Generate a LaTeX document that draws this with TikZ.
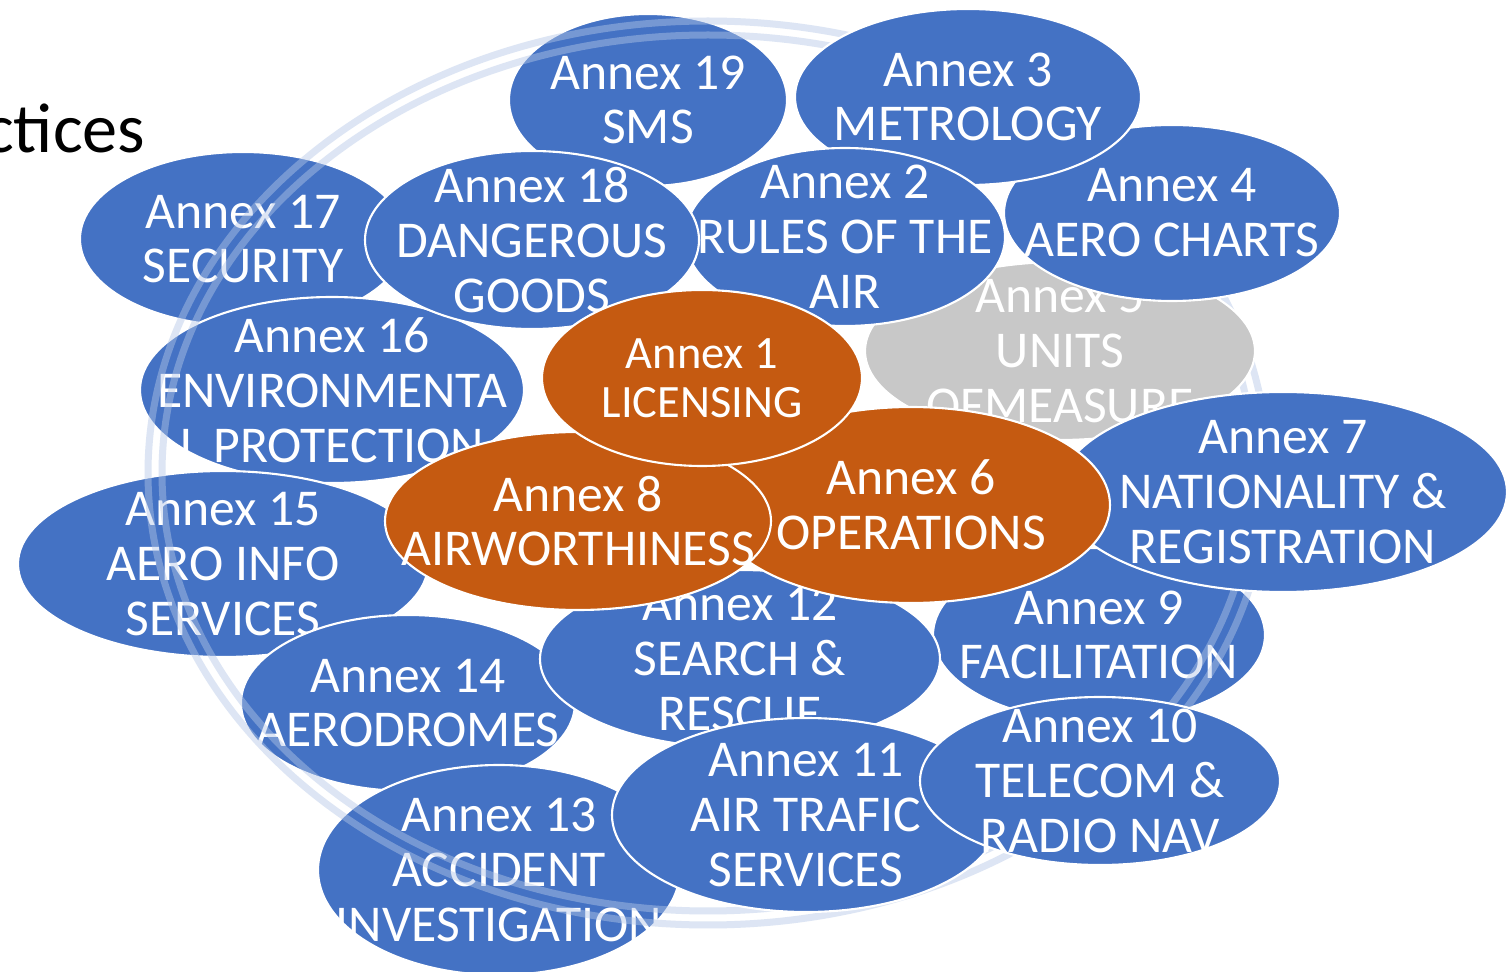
\documentclass[tikz,border=0pt]{standalone}
\usepackage{fontspec}
\setmainfont{Carlito}
\usepackage{tikz}
\usetikzlibrary{shapes.geometric}
\definecolor{annexblue}{HTML}{4472C4}
\definecolor{annexorange}{HTML}{C55A11}
\definecolor{annexgrey}{HTML}{C8C8C8}
\definecolor{ringblue}{HTML}{B4C7E7}

\begin{document}
\begin{tikzpicture}[x=0.1mm, y=-0.1mm,
    annex/.style={ellipse, draw=white, line width=0.6pt, inner sep=0pt},
    blue annex/.style={annex, fill=annexblue},
    orange annex/.style={annex, fill=annexorange},
    grey annex/.style={annex, fill=annexgrey},
    annex text/.style={text=white, align=center, inner sep=0pt, font=\fontsize{14.7}{15.6}\selectfont},
    ring/.style={draw=ringblue, draw opacity=0.45, line width=0.7mm}]
    \fill[white, use as bounding box] (0,0) rectangle (1507,972);
    \node[anchor=base east, inner sep=0pt, font=\fontsize{20}{22}\selectfont] (title) at (146,153) {ctices};
    %
    \node[blue annex, minimum width=27.8mm, minimum height=17.2mm] (a_19) at (648,100) {};
    \node[annex text] (l_19) at (a_19.center) {Annex 19\\SMS};
    \node[blue annex, minimum width=32.6mm, minimum height=17.4mm] (a_17) at (243,239) {};
    \node[annex text] (l_17) at (a_17.center) {Annex 17\\SECURITY};
    \node[blue annex, minimum width=38.4mm, minimum height=18.6mm] (a_16) at (332,390) {};
    \node[annex text] (l_16) at (a_16.center) {Annex 16\\ENVIRONMENTA\\L PROTECTION};
    \node[blue annex, minimum width=41.0mm, minimum height=18.6mm] (a_15) at (223,564) {};
    \node[annex text] (l_15) at (a_15.center) {Annex 15\\AERO INFO\\SERVICES};
    \node[blue annex, minimum width=33.4mm, minimum height=17.6mm] (a_14) at (408,703) {};
    \node[annex text] (l_14) at (a_14.center) {Annex 14\\AERODROMES};
    \node[blue annex, minimum width=36.2mm, minimum height=21.0mm] (a_13) at (499,870) {};
    \node[annex text] (l_13) at (a_13.center) {Annex 13\\ACCIDENT\\INVESTIGATION};
    \node[blue annex, minimum width=33.2mm, minimum height=17.4mm] (a_9) at (1099,635) {};
    \node[annex text] (l_9) at (a_9.center) {Annex 9\\FACILITATION};
    \node[blue annex, minimum width=40.0mm, minimum height=17.8mm] (a_12) at (740,659) {};
    \node[annex text] (l_12) at (a_12.center) {Annex 12\\SEARCH \&\\RESCUE};
    %
    \begin{scope}
        \coordinate (ring) at (708,473);
        \draw[ring] (ring) ellipse [x radius=560, y radius=452];
        \draw[ring] (ring) ellipse [x radius=546, y radius=438];
    \end{scope}
    %
    \node[grey annex, minimum width=39.0mm, minimum height=17.8mm] (a_5) at (1060,351) {};
    \node[annex text] (l_5) at (a_5.center) {Annex 5\\UNITS\\OFMEASURE};
    \node[blue annex, minimum width=33.6mm, minimum height=17.6mm] (a_4) at (1172,213) {};
    \node[annex text] (l_4) at (a_4.center) {Annex 4\\AERO CHARTS};
    \node[blue annex, minimum width=34.6mm, minimum height=17.6mm] (a_3) at (968,97) {};
    \node[annex text] (l_3) at (a_3.center) {Annex 3\\METROLOGY};
    \node[blue annex, minimum width=32.0mm, minimum height=17.8mm] (a_2) at (845,237) {};
    \node[annex text] (l_2) at (a_2.center) {Annex 2\\RULES OF THE\\AIR};
    \node[blue annex, minimum width=33.4mm, minimum height=17.8mm] (a_18) at (532,240) {};
    \node[annex text] (l_18) at (a_18.center) {Annex 18\\DANGEROUS\\GOODS};
    \node[blue annex, minimum width=44.8mm, minimum height=20.0mm] (a_7) at (1283,492) {};
    \node[annex text] (l_7) at (a_7.center) {Annex 7\\NATIONALITY \&\\REGISTRATION};
    %
    \node[orange annex, minimum width=39.8mm, minimum height=19.6mm] (a_6) at (911,505) {};
    \node[annex text] (l_6) at (a_6.center) {Annex 6\\OPERATIONS};
    \node[orange annex, minimum width=38.6mm, minimum height=17.8mm] (a_8) at (578,521) {};
    \node[annex text] (l_8) at (a_8.center) {Annex 8\\AIRWORTHINESS};
    \node[orange annex, minimum width=32.0mm, minimum height=17.6mm] (a_1) at (702,378) {};
    \node[annex text, font=\fontsize{13.2}{13.9}\selectfont] (l_1) at (a_1.center) {Annex 1\\LICENSING};
    %
    \node[blue annex, minimum width=38.8mm, minimum height=19.4mm] (a_11) at (806,815) {};
    \node[annex text] (l_11) at (a_11.center) {Annex 11\\AIR TRAFIC\\SERVICES};
    \node[blue annex, minimum width=36.0mm, minimum height=16.8mm] (a_10) at (1100,781) {};
    \node[annex text] (l_10) at (a_10.center) {Annex 10\\TELECOM \&\\RADIO NAV};
\end{tikzpicture}
\end{document}
